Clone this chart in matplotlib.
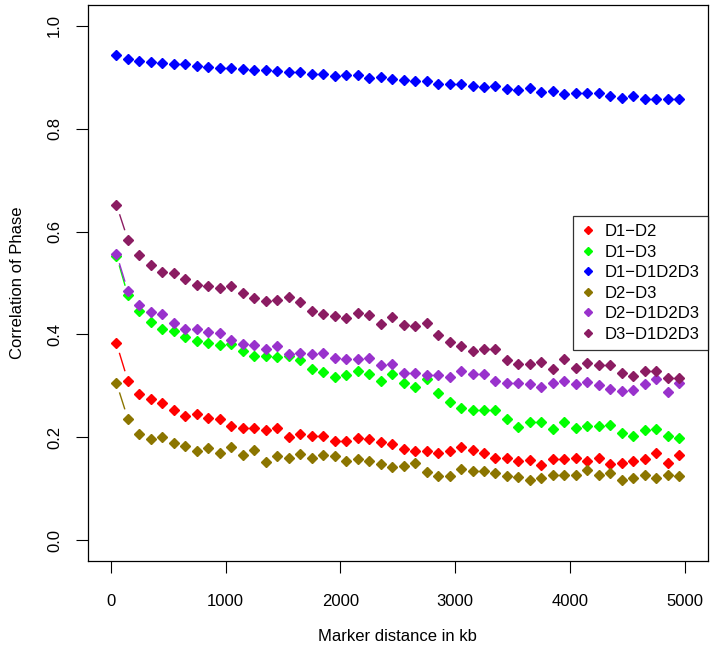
import numpy as np
import matplotlib
matplotlib.use("Agg")
import matplotlib.pyplot as plt
from matplotlib.lines import Line2D

plt.rcParams["font.family"] = ["Liberation Sans", "DejaVu Sans"]

# marker distance (kb)
distance = list(range(50, 5000, 100))

d1_d2 = [0.383, 0.310, 0.285, 0.274, 0.267, 0.253, 0.241, 0.245, 0.238, 0.236,
         0.223, 0.219, 0.219, 0.214, 0.219, 0.201, 0.206, 0.202, 0.203, 0.194,
         0.194, 0.199, 0.197, 0.192, 0.188, 0.178, 0.173, 0.174, 0.170, 0.174,
         0.181, 0.175, 0.170, 0.161, 0.160, 0.155, 0.157, 0.147, 0.159, 0.159,
         0.161, 0.155, 0.161, 0.148, 0.150, 0.155, 0.159, 0.170, 0.150, 0.166]
d1_d3 = [0.553, 0.476, 0.446, 0.424, 0.410, 0.407, 0.395, 0.387, 0.384, 0.380,
         0.381, 0.368, 0.359, 0.359, 0.356, 0.359, 0.351, 0.332, 0.327, 0.318,
         0.322, 0.329, 0.324, 0.310, 0.323, 0.305, 0.298, 0.313, 0.286, 0.268,
         0.258, 0.253, 0.254, 0.254, 0.235, 0.221, 0.230, 0.230, 0.216, 0.230,
         0.219, 0.223, 0.223, 0.224, 0.208, 0.203, 0.214, 0.216, 0.203, 0.199]
d1_all = [0.943, 0.935, 0.932, 0.929, 0.927, 0.926, 0.925, 0.922, 0.920, 0.917,
          0.918, 0.915, 0.914, 0.913, 0.912, 0.909, 0.909, 0.906, 0.906, 0.902,
          0.905, 0.904, 0.898, 0.900, 0.897, 0.894, 0.893, 0.893, 0.887, 0.886,
          0.887, 0.882, 0.880, 0.882, 0.876, 0.874, 0.878, 0.871, 0.872, 0.867,
          0.869, 0.869, 0.870, 0.863, 0.860, 0.863, 0.858, 0.858, 0.858, 0.857]
d2_d3 = [0.306, 0.236, 0.206, 0.197, 0.201, 0.189, 0.184, 0.174, 0.179, 0.170,
         0.181, 0.166, 0.175, 0.153, 0.163, 0.160, 0.167, 0.160, 0.165, 0.163,
         0.155, 0.159, 0.155, 0.148, 0.142, 0.144, 0.150, 0.133, 0.126, 0.126,
         0.139, 0.134, 0.134, 0.131, 0.126, 0.124, 0.118, 0.122, 0.127, 0.128,
         0.127, 0.137, 0.128, 0.130, 0.118, 0.121, 0.128, 0.122, 0.128, 0.126]
d2_all = [0.557, 0.484, 0.458, 0.444, 0.439, 0.423, 0.410, 0.411, 0.404, 0.403,
          0.389, 0.382, 0.380, 0.372, 0.377, 0.362, 0.365, 0.362, 0.365, 0.355,
          0.352, 0.353, 0.354, 0.340, 0.342, 0.326, 0.326, 0.321, 0.322, 0.318,
          0.330, 0.323, 0.323, 0.310, 0.306, 0.306, 0.303, 0.298, 0.306, 0.309,
          0.303, 0.307, 0.302, 0.295, 0.291, 0.293, 0.304, 0.313, 0.289, 0.306]
d3_all = [0.652, 0.584, 0.555, 0.535, 0.522, 0.519, 0.507, 0.496, 0.495, 0.491,
          0.494, 0.480, 0.471, 0.465, 0.467, 0.472, 0.463, 0.446, 0.439, 0.436,
          0.432, 0.441, 0.437, 0.420, 0.433, 0.418, 0.416, 0.423, 0.399, 0.386,
          0.377, 0.368, 0.372, 0.372, 0.351, 0.342, 0.342, 0.347, 0.333, 0.352,
          0.335, 0.344, 0.341, 0.341, 0.326, 0.320, 0.330, 0.329, 0.315, 0.315]

labels = ["D1\u2212D2", "D1\u2212D3", "D1\u2212D1D2D3", "D2\u2212D3",
          "D2\u2212D1D2D3", "D3\u2212D1D2D3"]
series = [d1_d2, d1_d3, d1_all, d2_d3, d2_all, d3_all]
colors = ["#FF0000", "#00FF00", "#0000FF", "#8B7500", "#9932CC", "#8B1C62"]

W, H = 714, 648
fig = plt.figure(figsize=(W / 100, H / 100), dpi=100)
ax = fig.add_axes([87.7 / W, 1 - 561 / H, (708 - 87.7) / W, (561 - 5) / H])
ax.set_xlim(-200, 5200)
ax.set_ylim(-0.04, 1.04)


def gapped_lines(ax, x, y, color, gap=10):
    # R type="b": segments between points, cut back around each point
    pts = ax.transData.transform(np.column_stack([x, y]))
    inv = ax.transData.inverted()
    for p, q in zip(pts[:-1], pts[1:]):
        d = np.hypot(*(q - p))
        if d <= 2 * gap:
            continue
        u = (q - p) / d
        a, b = inv.transform([p + u * gap, q - u * gap])
        ax.plot([a[0], b[0]], [a[1], b[1]], color=color, lw=1.0,
                solid_capstyle="butt")


for vals, col in zip(series, colors):
    gapped_lines(ax, distance, vals, col)
    ax.plot(distance, vals, linestyle="none", marker="D", ms=5.2,
            color=col, mec=col)

ax.set_xticks([0, 1000, 2000, 3000, 4000, 5000])
ax.set_yticks([0.0, 0.2, 0.4, 0.6, 0.8, 1.0])
ax.set_yticklabels(["0.0", "0.2", "0.4", "0.6", "0.8", "1.0"], rotation=90,
                   va="center")
ax.tick_params(direction="out", length=8.5, width=0.8, labelsize=12,
               colors="black")
ax.tick_params(axis="x", pad=15)
ax.tick_params(axis="y", pad=10)
for s in ax.spines.values():
    s.set_linewidth(0.9)

ax.set_xlabel("Marker distance in kb", fontsize=12, labelpad=14.5)
ax.set_ylabel("Correlation of Phase", fontsize=12, labelpad=16)

handles = [Line2D([], [], linestyle="none", marker="D", ms=4.2, color=c)
           for c in colors]
leg = ax.legend(handles, labels, loc="center right", fontsize=12,
                frameon=True, fancybox=False, borderaxespad=0,
                handlelength=0.8, handletextpad=0.6, labelspacing=0.33,
                borderpad=0.5)
leg.get_frame().set_edgecolor("black")
leg.get_frame().set_linewidth(0.9)

fig.savefig("out.png", dpi=100)
